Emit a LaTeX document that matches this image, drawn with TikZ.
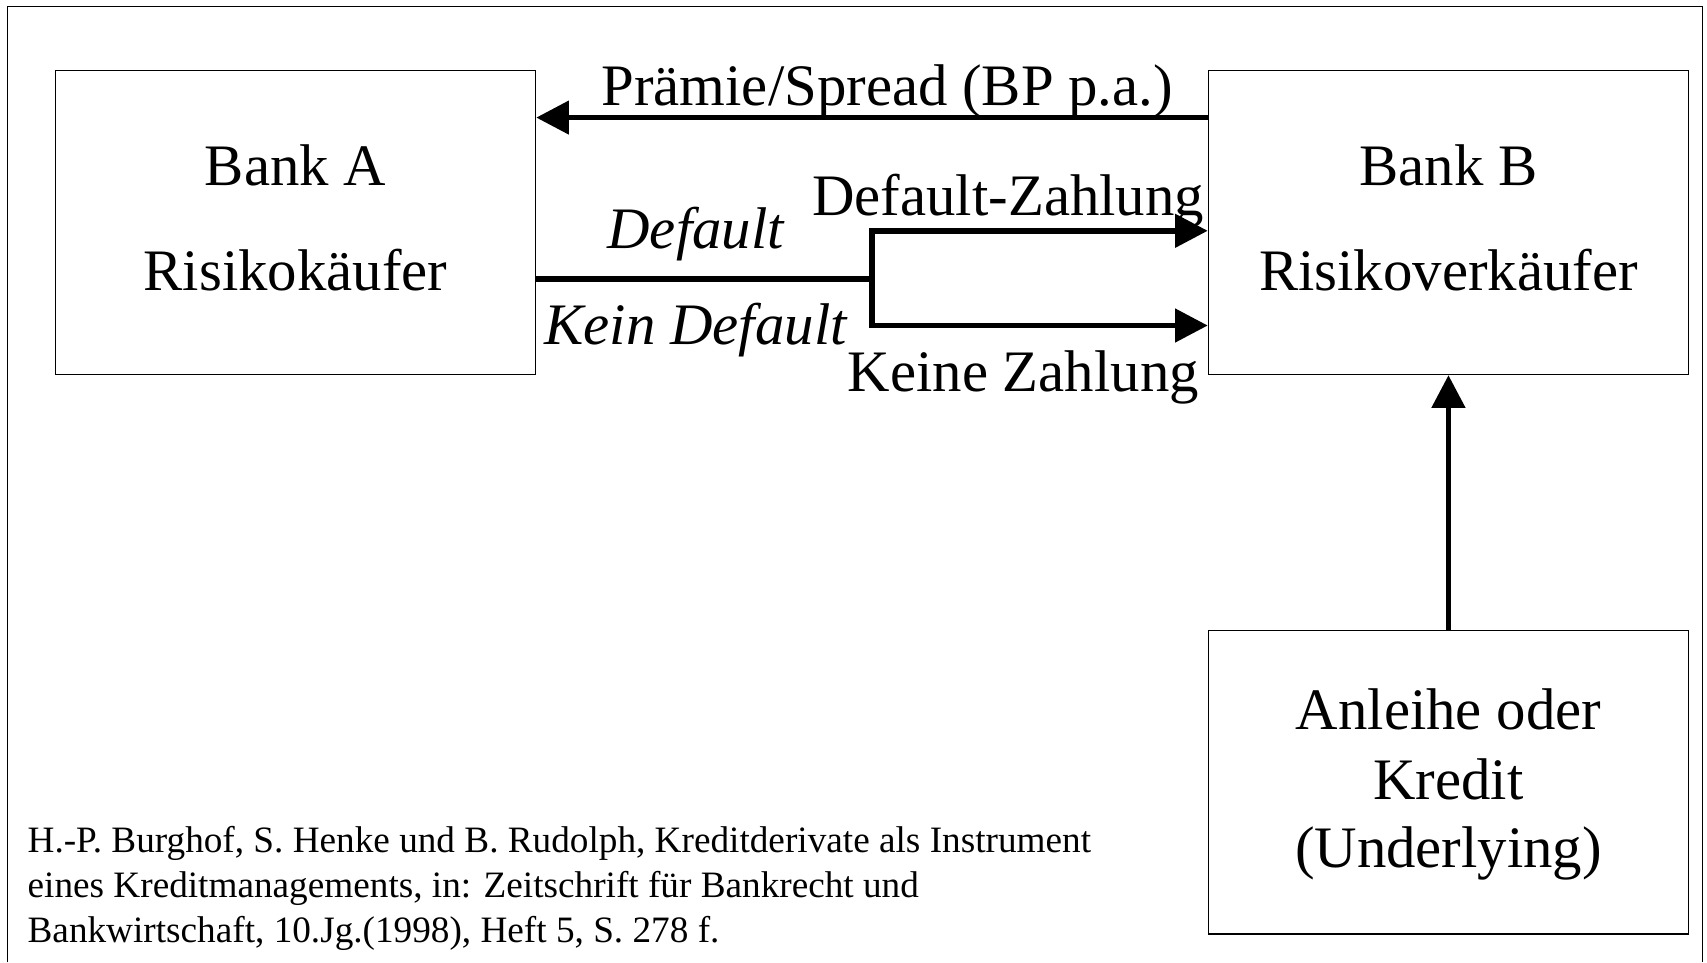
\documentclass[tikz,border=0pt]{standalone}
\usepackage{fontspec}
\setmainfont{Liberation Serif}
\usetikzlibrary{arrows.meta}

\begin{document}
\begin{tikzpicture}[
    x=0.5pt, y=-0.5pt,
    box/.style={draw, line width=0.6pt, minimum width=220.5pt, minimum height=139.5pt, inner sep=0pt},
    txt/.style={inner sep=0pt, anchor=base, font=\fontsize{27}{32}\selectfont},
    itxt/.style={txt, font=\fontsize{27}{32}\selectfont\itshape},
    cite/.style={inner sep=0pt, anchor=base west, font=\fontsize{17.1}{20}\selectfont},
    link/.style={line width=2.6pt},
    arr/.style={link, -{Triangle[length=15pt, width=15pt]}},
    frame/.style={line width=0.7pt}
  ]
  \useasboundingbox (0,0) rectangle (1568,884);

  % outer frame (open at the bottom)
  \draw[frame] (7,884) -- (7,6) -- (1564,6) -- (1564,884);

  % boxes
  \node[box] (bankA) at (271.5,204.5) {};
  \node[box] (bankB) at (1330.5,204.5) {};
  \node[box] (underlying) at (1330.5,718.5) {};

  % box texts
  \node[txt] (a1) at (271.5,170) {Bank A};
  \node[txt] (a2) at (271.5,267) {Risikokäufer};
  \node[txt] (b1) at (1330.5,170) {Bank B};
  \node[txt] (b2) at (1330.5,267) {Risikoverkäufer};
  \node[txt] (u1) at (1330.5,670) {Anleihe oder};
  \node[txt] (u2) at (1330.5,734) {Kredit};
  \node[txt] (u3) at (1330.5,797) {(Underlying)};

  % premium payment
  \coordinate (premY) at (0,108);
  \draw[arr] (bankB.west |- premY) -- (bankA.east |- premY);
  \node[txt] (prem) at (815,97) {Prämie/Spread (BP p.a.)};

  % default branch
  \coordinate (fork) at (801,256);
  \coordinate (forkUp) at (801,212);
  \coordinate (forkDn) at (801,299);
  \draw[link] (bankA.east |- fork) -- (fork);
  \draw[link, line cap=rect] (forkUp) -- (forkDn);
  \draw[arr] (forkUp) -- (forkUp -| bankB.west);
  \draw[arr] (forkDn) -- (forkDn -| bankB.west);

  \node[itxt] (dflt) at (639,228) {Default};
  \node[itxt] (nodflt) at (639,316) {Kein Default};
  \node[txt] (pay) at (926,198) {Default-Zahlung};
  \node[txt] (nopay) at (940,360) {Keine Zahlung};

  % underlying to Bank B
  \draw[arr] (underlying.north) -- (bankB.south);

  % source
  \node[cite] (c1) at (25,783) {H.-P. Burghof, S. Henke und B. Rudolph, Kreditderivate als Instrument};
  \node[cite] (c2) at (25,824) {eines Kreditmanagements, in: Zeitschrift für Bankrecht und};
  \node[cite] (c3) at (25,866) {Bankwirtschaft, 10.Jg.(1998), Heft 5, S. 278 f.};
\end{tikzpicture}
\end{document}
